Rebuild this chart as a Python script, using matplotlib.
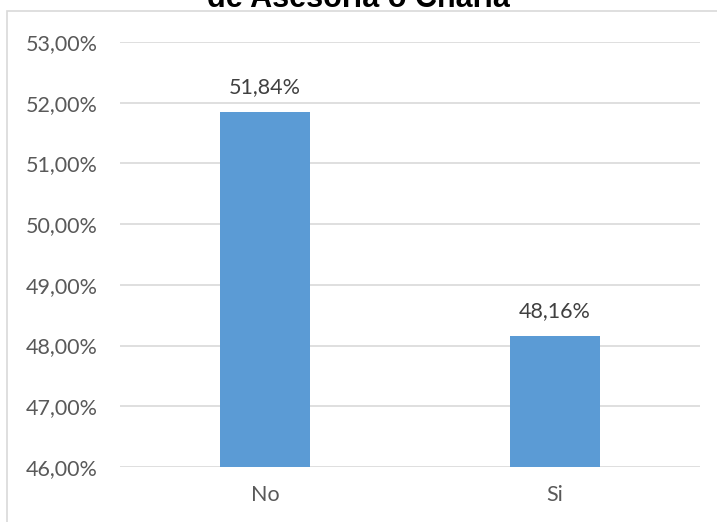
import matplotlib.pyplot as plt
from matplotlib.patches import Rectangle
from matplotlib.ticker import FuncFormatter

categories = ["No", "Si"]
values = [51.84, 48.16]
y_ticks = [46, 47, 48, 49, 50, 51, 52, 53]

plt.rcParams['font.family'] = ['Lato', 'DejaVu Sans']

fig = plt.figure(figsize=(7.17, 5.22), dpi=100)
ax = fig.add_axes([120 / 717, 1 - 467 / 522, 580 / 717, 425 / 522])

# chart frame (cut off on right/bottom like the screenshot)
fig.patches.append(Rectangle((7 / 717, -0.1), 1.2, 1 - 11 / 522 + 0.1,
                             transform=fig.transFigure, fill=False,
                             edgecolor='#d9d9d9', linewidth=1.2))

x = range(len(categories))
bars = ax.bar(x, [v - 46 for v in values], bottom=46, width=0.31,
              color='#5b9bd5', zorder=3)
for xi, v in zip(x, values):
    ax.annotate(f"{v:.2f}%".replace('.', ','), (xi, v), xytext=(0, 18),
                textcoords='offset points', ha='center', va='center',
                fontsize=15.5, color='#404040')

ax.set_xlim(-0.5, 1.5)
ax.set_ylim(46, 53)
ax.set_yticks(y_ticks)
ax.yaxis.set_major_formatter(FuncFormatter(lambda v, p: f"{v:.2f}%".replace('.', ',')))
ax.set_xticks(list(x))
ax.set_xticklabels(categories)
ax.tick_params(axis='both', length=0, labelsize=15.5, labelcolor='#595959')
ax.tick_params(axis='y', pad=16)
ax.tick_params(axis='x', pad=13)
ax.grid(axis='y', color='#d9d9d9', linewidth=1.2, zorder=0)
for s in ax.spines.values():
    s.set_visible(False)

fig.text(0.5, 1 - 7 / 522, "de Asesoría o Charla", ha='center', va='baseline',
         fontsize=22, fontweight='bold', family='Liberation Sans')

fig.savefig('out.png', dpi=100)
